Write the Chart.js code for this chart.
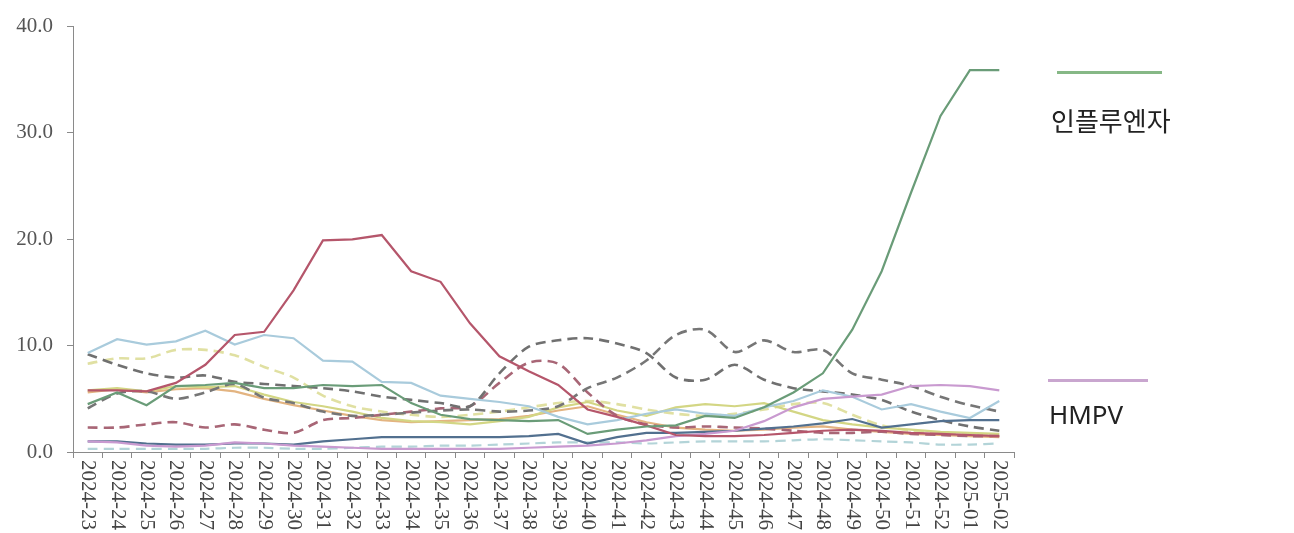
<!DOCTYPE html>
<html lang="ko">
<head>
    <meta charset="UTF-8">
    <title>주별 검출률</title>
    <script src="https://cdn.jsdelivr.net/npm/chart.js@4.4.1/dist/chart.umd.min.js"></script>
    <style>
        body { margin: 0; background: #fff; }
        #wrap { position: relative; width: 1294px; height: 533px; overflow: hidden; }
        #chart { position: absolute; left: 0; top: 0; }
        .legend-line { position: absolute; height: 3px; }
        .legend-text { position: absolute; color: #222; white-space: nowrap; }
    </style>
</head>
<body>
<div id="wrap">
    <canvas id="chart" width="1294" height="533"></canvas>
    <div class="legend-line" style="left:1057px; top:71px; width:105px; background:#86b886;"></div>
    <div class="legend-text" style="left:1051px; top:101px; font:26px 'Noto Sans CJK KR', sans-serif;">인플루엔자</div>
    <div class="legend-line" style="left:1048px; top:379px; width:100px; background:#c9a6cf;"></div>
    <div class="legend-text" style="left:1049px; top:396px; font:26px 'Noto Sans', sans-serif;">HMPV</div>
</div>
<script>
    // x축 주차
    var weeks = ['2024-23', '2024-24', '2024-25', '2024-26', '2024-27', '2024-28', '2024-29', '2024-30',
        '2024-31', '2024-32', '2024-33', '2024-34', '2024-35', '2024-36', '2024-37', '2024-38',
        '2024-39', '2024-40', '2024-41', '2024-42', '2024-43', '2024-44', '2024-45', '2024-46',
        '2024-47', '2024-48', '2024-49', '2024-50', '2024-51', '2024-52', '2025-01', '2025-02'];

    var yTicks = [0, 10, 20, 30, 40];

    // 실선 계열
    var influenza = [4.5, 5.6, 4.4, 6.2, 6.3, 6.5, 6.0, 6.0, 6.3, 6.2, 6.3, 4.6, 3.5, 3.1, 3.0, 2.9,
        3.0, 1.7, 2.1, 2.4, 2.5, 3.4, 3.2, 4.2, 5.6, 7.4, 11.5, 17.0, 24.4, 31.6, 35.9, 35.9];
    var hmpv = [1.0, 0.9, 0.6, 0.5, 0.6, 0.9, 0.8, 0.6, 0.5, 0.4, 0.3, 0.3, 0.3, 0.3, 0.3, 0.4,
        0.5, 0.6, 0.8, 1.1, 1.5, 1.7, 2.0, 2.9, 4.2, 5.0, 5.2, 5.4, 6.2, 6.3, 6.2, 5.8];
    var redSolid = [5.8, 5.8, 5.7, 6.5, 8.2, 11.0, 11.3, 15.2, 19.9, 20.0, 20.4, 17.0, 16.0, 12.1, 9.0, 7.6,
        6.3, 4.0, 3.3, 2.5, 1.6, 1.5, 1.5, 1.6, 1.8, 2.0, 2.1, 2.0, 1.8, 1.7, 1.6, 1.5];
    var lightBlueSolid = [9.3, 10.6, 10.1, 10.4, 11.4, 10.1, 11.0, 10.7, 8.6, 8.5, 6.6, 6.5, 5.3, 5.0, 4.7, 4.3,
        3.3, 2.6, 3.0, 3.6, 4.0, 3.6, 3.4, 4.2, 4.8, 5.8, 5.2, 4.0, 4.5, 3.8, 3.2, 4.8];
    var darkBlueSolid = [1.0, 1.0, 0.8, 0.7, 0.7, 0.8, 0.8, 0.7, 1.0, 1.2, 1.4, 1.4, 1.4, 1.4, 1.4, 1.5,
        1.7, 0.8, 1.4, 1.8, 1.8, 1.9, 2.0, 2.2, 2.4, 2.7, 3.1, 2.3, 2.6, 2.9, 3.0, 3.0];
    var yellowSolid = [5.8, 6.0, 5.7, 6.2, 6.1, 6.2, 5.4, 4.7, 4.3, 3.8, 3.2, 2.9, 2.8, 2.6, 2.9, 3.3,
        4.2, 4.7, 3.9, 3.4, 4.2, 4.5, 4.3, 4.6, 3.8, 3.0, 2.6, 2.3, 2.1, 1.9, 1.8, 1.7];
    var orangeSolid = [5.6, 5.9, 5.6, 5.9, 6.0, 5.7, 5.0, 4.4, 3.9, 3.4, 3.0, 2.8, 2.9, 3.0, 3.1, 3.4,
        3.9, 4.3, 3.5, 2.8, 2.3, 2.1, 2.0, 2.1, 2.3, 2.4, 2.1, 1.9, 1.7, 1.6, 1.5, 1.4];

    // 점선 계열
    var grayDashA = [9.2, 8.2, 7.4, 7.0, 7.2, 6.6, 6.4, 6.2, 6.0, 5.7, 5.2, 4.9, 4.6, 4.3, 7.4, 9.9,
        10.5, 10.7, 10.2, 9.3, 7.0, 6.8, 8.2, 6.8, 6.0, 5.7, 5.4, 4.9, 3.8, 3.0, 2.4, 2.0];
    var grayDashB = [4.1, 5.5, 5.7, 5.0, 5.6, 6.4, 5.1, 4.6, 3.8, 3.4, 3.5, 3.7, 3.9, 4.0, 3.8, 3.9,
        4.3, 6.0, 7.0, 8.6, 11.0, 11.5, 9.4, 10.5, 9.4, 9.6, 7.4, 6.8, 6.2, 5.2, 4.4, 3.8];
    var redDash = [2.3, 2.3, 2.6, 2.8, 2.3, 2.6, 2.1, 1.8, 3.0, 3.2, 3.5, 3.8, 4.1, 4.3, 6.5, 8.4,
        8.3, 5.6, 3.4, 2.6, 2.3, 2.4, 2.3, 2.2, 2.0, 1.8, 1.8, 1.9, 1.7, 1.6, 1.5, 1.5];
    var yellowDash = [8.3, 8.8, 8.8, 9.6, 9.6, 9.1, 8.0, 7.0, 5.3, 4.3, 3.8, 3.5, 3.3, 3.5, 3.8, 4.2,
        4.6, 4.8, 4.5, 4.0, 3.6, 3.4, 3.6, 4.0, 4.5, 4.6, 3.5, 2.5, 2.0, 1.8, 1.6, 1.5];
    var tealDash = [0.3, 0.3, 0.3, 0.3, 0.3, 0.4, 0.4, 0.3, 0.3, 0.4, 0.5, 0.5, 0.6, 0.6, 0.7, 0.8,
        0.9, 0.9, 0.9, 0.8, 0.9, 1.0, 1.0, 1.0, 1.1, 1.2, 1.1, 1.0, 0.9, 0.7, 0.7, 0.8];

    function solid(label, data, color) {
        return { label: label, data: data, borderColor: color, borderWidth: 2.2, pointRadius: 0, tension: 0, fill: false };
    }

    function dashed(label, data, color, width) {
        return { label: label, data: data, borderColor: color, borderWidth: width, borderDash: [10, 6],
            pointRadius: 0, tension: 0.3, fill: false };
    }

    // x축 라벨 : 위에서 아래로 읽히도록 시계방향 90도 회전
    var xLabelPlugin = {
        id: 'xLabelPlugin',
        afterDraw: function(chart) {
            var ctx = chart.ctx;
            var xScale = chart.scales.x;
            ctx.save();
            ctx.font = '21px "Liberation Serif", serif';
            ctx.fillStyle = '#444';
            ctx.textAlign = 'left';
            ctx.textBaseline = 'middle';
            weeks.forEach(function(w, i) {
                ctx.save();
                ctx.translate(xScale.getPixelForValue(i), chart.chartArea.bottom + 8);
                ctx.rotate(Math.PI / 2);
                ctx.fillText(w, 0, 0);
                ctx.restore();
            });
            ctx.restore();
        }
    };

    var ctx = document.getElementById('chart').getContext('2d');
    new Chart(ctx, {
        type: 'line',
        data: {
            labels: weeks,
            datasets: [
                solid('인플루엔자', influenza, '#6a9c78'),
                solid('red', redSolid, '#b5566b'),
                solid('HMPV', hmpv, '#c99ad0'),
                solid('darkblue', darkBlueSolid, '#52708f'),
                solid('lightblue', lightBlueSolid, '#a9cbdc'),
                dashed('grayA', grayDashA, '#707070', 2.6),
                dashed('grayB', grayDashB, '#767676', 2.6),
                dashed('redDash', redDash, '#a86676', 2.6),
                solid('yellow', yellowSolid, '#d3d684'),
                solid('orange', orangeSolid, '#e3b481'),
                dashed('yellowDash', yellowDash, '#e0e0a2', 2.6),
                dashed('tealDash', tealDash, '#b3d4d8', 2.2)
            ]
        },
        options: {
            responsive: false,
            animation: false,
            devicePixelRatio: 1,
            layout: { padding: { top: 20, right: 280, bottom: 0, left: 0 } },
            plugins: {
                legend: { display: false },
                tooltip: { enabled: false }
            },
            scales: {
                x: {
                    type: 'category',
                    offset: true,
                    grid: { offset: true, drawOnChartArea: false, drawTicks: true, tickLength: 6, color: '#8a8a8a' },
                    border: { color: '#8a8a8a', width: 1 },
                    ticks: { display: false },
                    afterFit: function(scale) { scale.height = 81; }
                },
                y: {
                    min: yTicks[0],
                    max: yTicks[yTicks.length - 1],
                    grid: { drawOnChartArea: false, drawTicks: true, tickLength: 6, color: '#8a8a8a' },
                    border: { color: '#8a8a8a', width: 1 },
                    afterBuildTicks: function(scale) {
                        scale.ticks = yTicks.map(function(v) { return { value: v }; });
                    },
                    ticks: {
                        padding: 14,
                        color: '#555',
                        font: { family: '"Liberation Serif", serif', size: 21 },
                        callback: function(v) { return Number(v).toFixed(1); }
                    },
                    afterFit: function(scale) { scale.width = 73; }
                }
            }
        },
        plugins: [xLabelPlugin]
    });
</script>
</body>
</html>
